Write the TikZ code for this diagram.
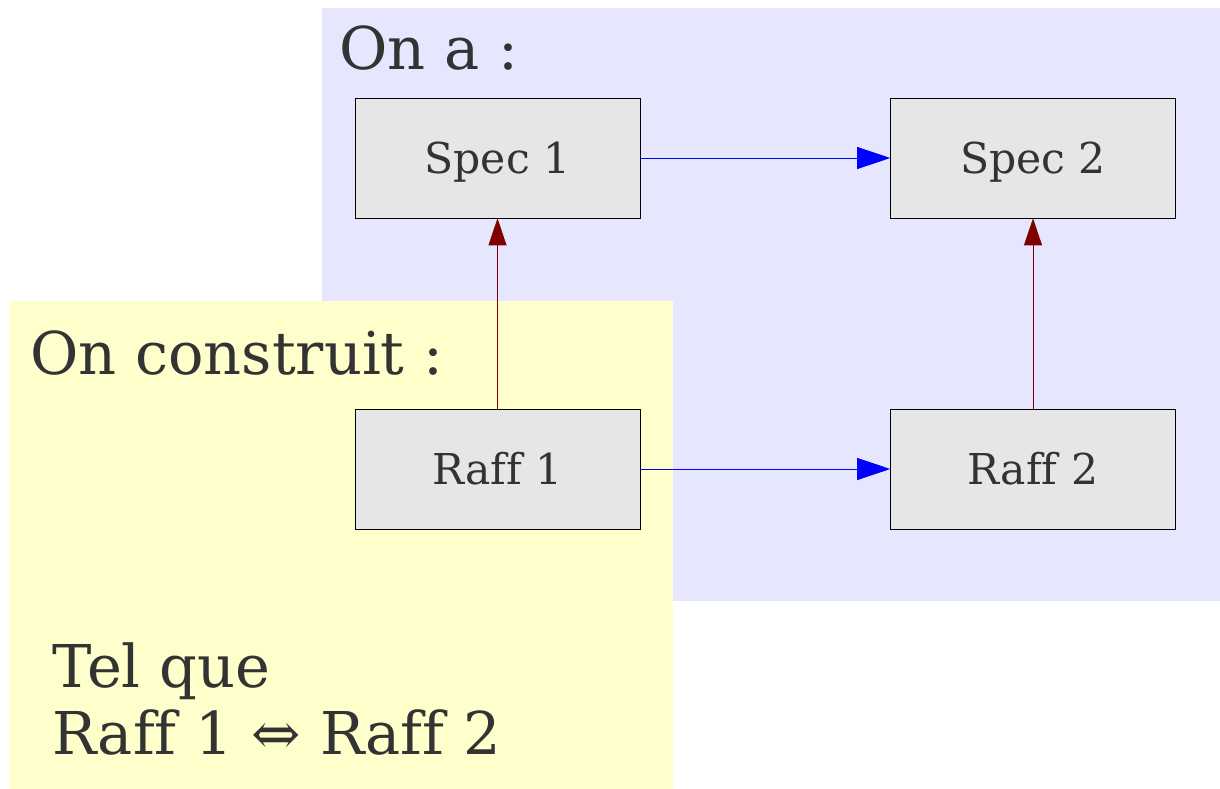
\documentclass[tikz,border=0pt]{standalone}
\usepackage{fontspec}
\setmainfont[Ligatures=NoCommon]{DejaVu Serif}
\usetikzlibrary{arrows.meta}
\definecolor{panelblue}{HTML}{E6E6FF}
\definecolor{panelyellow}{HTML}{FFFFCC}
\definecolor{boxgray}{HTML}{E6E6E6}
\definecolor{inkgray}{HTML}{333333}
\definecolor{refine}{HTML}{800000}
\tikzset{
  specbox/.style={draw=black, line width=0.6pt, fill=boxgray, minimum width=285pt, minimum height=120pt,
    inner sep=0pt, text height=30pt, text depth=0pt, text=inkgray, font=\fontsize{42.5}{50}\selectfont},
  title/.style={anchor=base west, inner sep=0pt, text=inkgray, font=\fontsize{59}{70}\selectfont},
  hlink/.style={draw=blue, line width=0.8pt, -{Triangle[length=33pt,width=22pt]}, fill=blue},
  vlink/.style={draw=refine, line width=0.8pt, -{Triangle[length=27pt,width=18pt]}, fill=refine},
}
\begin{document}
\begin{tikzpicture}[x=1pt,y=-1pt]
  \useasboundingbox (0,0) rectangle (1220,789);
  % background panels
  \fill[panelblue] (322,8) rectangle (1220,601);
  \fill[panelyellow] (10,301) rectangle (673,789);
  % panel titles
  \node[title] (ona) at (339,70) {On a :};
  \node[title] (construit) at (30,374) {On construit :};
  \node[title] (telque) at (52,687) {Tel que};
  \node[title] (equiv) at (52,754) {Raff 1 ⇔ Raff 2};
  % boxes
  \node[specbox] (s1) at (497.5,158) {Spec 1};
  \node[specbox] (s2) at (1033,158) {Spec 2};
  \node[specbox] (r1) at (497.5,469) {Raff 1};
  \node[specbox] (r2) at (1033,469) {Raff 2};
  % connectors
  \draw[hlink] (s1) -- (s2);
  \draw[hlink] (r1) -- (r2);
  \draw[vlink] (r1) -- (s1);
  \draw[vlink] (r2) -- (s2);
\end{tikzpicture}
\end{document}
